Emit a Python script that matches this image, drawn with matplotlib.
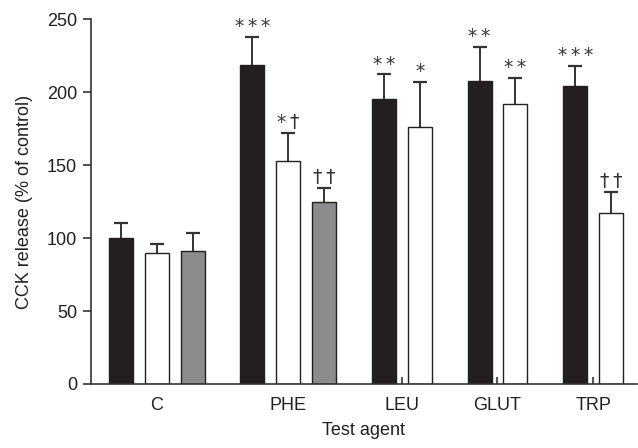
import matplotlib
matplotlib.use("Agg")
import matplotlib.pyplot as plt
import numpy as np

plt.rcParams['font.family'] = ['Liberation Sans', 'DejaVu Sans']

groups = ["C", "PHE", "LEU", "GLUT", "TRP"]
bar_group = [0, 0, 0, 1, 1, 1, 2, 2, 3, 3, 4, 4]
bar_kind = ["black", "white", "gray", "black", "white", "gray",
            "black", "white", "black", "white", "black", "white"]
values = [100, 90, 91, 218.5, 153, 124.5, 195.2, 176.5, 207.5, 191.8, 204.6, 117.5]
upper = [110.7, 95.9, 103.4, 237.8, 172, 134.2, 212.2, 206.8, 231.2, 209.8, 218, 131.5]
sig = ["", "", "", "***", "*\u2020", "\u2020\u2020", "**", "*", "**", "**", "***", "\u2020\u2020"]
yticks = [0, 50, 100, 150, 200, 250]

colors = {"black": "#231f20", "white": "#ffffff", "gray": "#8b8c8e"}
edge = "#231f20"

pos = []
p = 0.0
prev = None
for g in bar_group:
    if prev is not None:
        p += 1.0 if g == prev else 1.667
    pos.append(p)
    prev = g
pos = np.array(pos)
errs = np.array(upper) - np.array(values)

fig = plt.figure(figsize=(6.38, 4.48), dpi=100)
ax = fig.add_axes([91/638, 1-384/448, (637-91)/638, (384-19.3)/448])

for x, v, e, k, s in zip(pos, values, errs, bar_kind, sig):
    ax.bar(x, v, width=0.67, color=colors[k], edgecolor=edge, linewidth=1.0, zorder=2)
    ax.errorbar(x, v, yerr=e, fmt='none', ecolor='#333333',
                elinewidth=1.4, capsize=4.8, capthick=1.6, zorder=1)
    if s:
        txt = "\u2009".join(s)
        ax.annotate(txt, (x, v + e), xytext=(0, 3.5), textcoords='offset points',
                    ha='center', va='baseline', fontsize=13.5, color='#333333',
                    family=['DejaVu Sans'])

centers = [pos[np.array(bar_group) == i].mean() for i in range(len(groups))]
ax.set_xticks(centers)
ax.set_xticklabels(groups, fontsize=13)
ax.set_yticks(yticks)
ax.set_yticklabels([str(t) for t in yticks], fontsize=13)
ax.set_ylim(0, 250)
ax.set_xlim((91-121)/35.85, (637-121)/35.85)

for sp in ["top", "right"]:
    ax.spines[sp].set_visible(False)
for sp in ["left", "bottom"]:
    ax.spines[sp].set_color('#333333')
    ax.spines[sp].set_linewidth(1.2)
ax.tick_params(axis='x', direction='in', length=5, width=1.2, color='#333333', pad=9, labelcolor='#231f20')
ax.tick_params(axis='y', direction='out', length=6, width=1.2, color='#333333', pad=4, labelcolor='#231f20')

ax.set_ylabel("CCK release (% of control)", fontsize=13, color='#231f20', labelpad=10)
ax.set_xlabel("Test agent", fontsize=13, color='#231f20', labelpad=6)

fig.savefig("out.png", dpi=100)
